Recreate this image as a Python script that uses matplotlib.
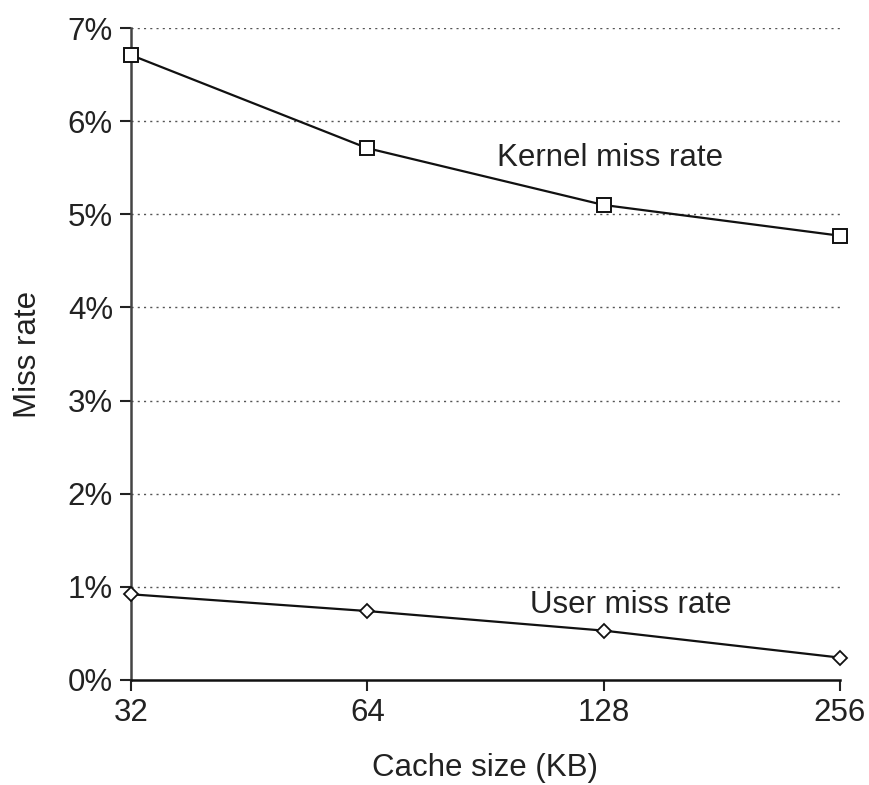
import matplotlib.pyplot as plt
from matplotlib.ticker import FixedLocator, FuncFormatter

plt.rcParams["font.family"] = ["Liberation Sans", "DejaVu Sans"]

cache_kb = [32, 64, 128, 256]
kernel_miss = [6.71, 5.71, 5.10, 4.77]
user_miss = [0.92, 0.74, 0.53, 0.24]
y_ticks = [0, 1, 2, 3, 4, 5, 6, 7]

fig = plt.figure(figsize=(8.69, 7.85), dpi=100)
ax = fig.add_axes([0.1507, 0.1338, 0.8159, 0.8305])

# dotted guide lines at each percent
for t in y_ticks[1:]:
    ax.axhline(t, color="#555555", linestyle=(0, (1.5, 3)), linewidth=1.0, zorder=1)

ax.plot(cache_kb, kernel_miss, color="#111111", linewidth=1.6, marker="s",
        markersize=10, markerfacecolor="white", markeredgecolor="#111111",
        markeredgewidth=1.4, clip_on=False, zorder=3)
ax.plot(cache_kb, user_miss, color="#111111", linewidth=1.6, marker="D",
        markersize=7, markerfacecolor="white", markeredgecolor="#111111",
        markeredgewidth=1.3, clip_on=False, zorder=3)

ax.text(93.6, 5.60, "Kernel miss rate", fontsize=22.5, ha="left", va="center", color="#222222")
ax.text(103.0, 0.80, "User miss rate", fontsize=22.5, ha="left", va="center", color="#222222")

ax.set_xscale("log", base=2)
ax.set_xlim(32, 256)
ax.set_ylim(0, 7)
ax.xaxis.set_major_locator(FixedLocator(cache_kb))
ax.xaxis.set_minor_locator(FixedLocator([]))
ax.xaxis.set_major_formatter(FuncFormatter(lambda v, p: f"{int(v)}"))
ax.yaxis.set_major_locator(FixedLocator(y_ticks))
ax.yaxis.set_major_formatter(FuncFormatter(lambda v, p: f"{int(v)}%"))

for side in ["top", "right"]:
    ax.spines[side].set_visible(False)
ax.spines["left"].set_color("#444444")
ax.spines["left"].set_linewidth(1.8)
ax.spines["bottom"].set_color("#111111")
ax.spines["bottom"].set_linewidth(1.8)

ax.tick_params(axis="both", labelsize=22.5, length=8, width=1.5, color="#222222",
               labelcolor="#222222")
ax.tick_params(axis="y", pad=5)
ax.tick_params(axis="x", pad=5)

ax.set_xlabel("Cache size (KB)", fontsize=22.5, color="#222222", labelpad=18)
ax.set_ylabel("Miss rate", fontsize=22.5, color="#222222", labelpad=18)

fig.savefig("out.png", dpi=100)
